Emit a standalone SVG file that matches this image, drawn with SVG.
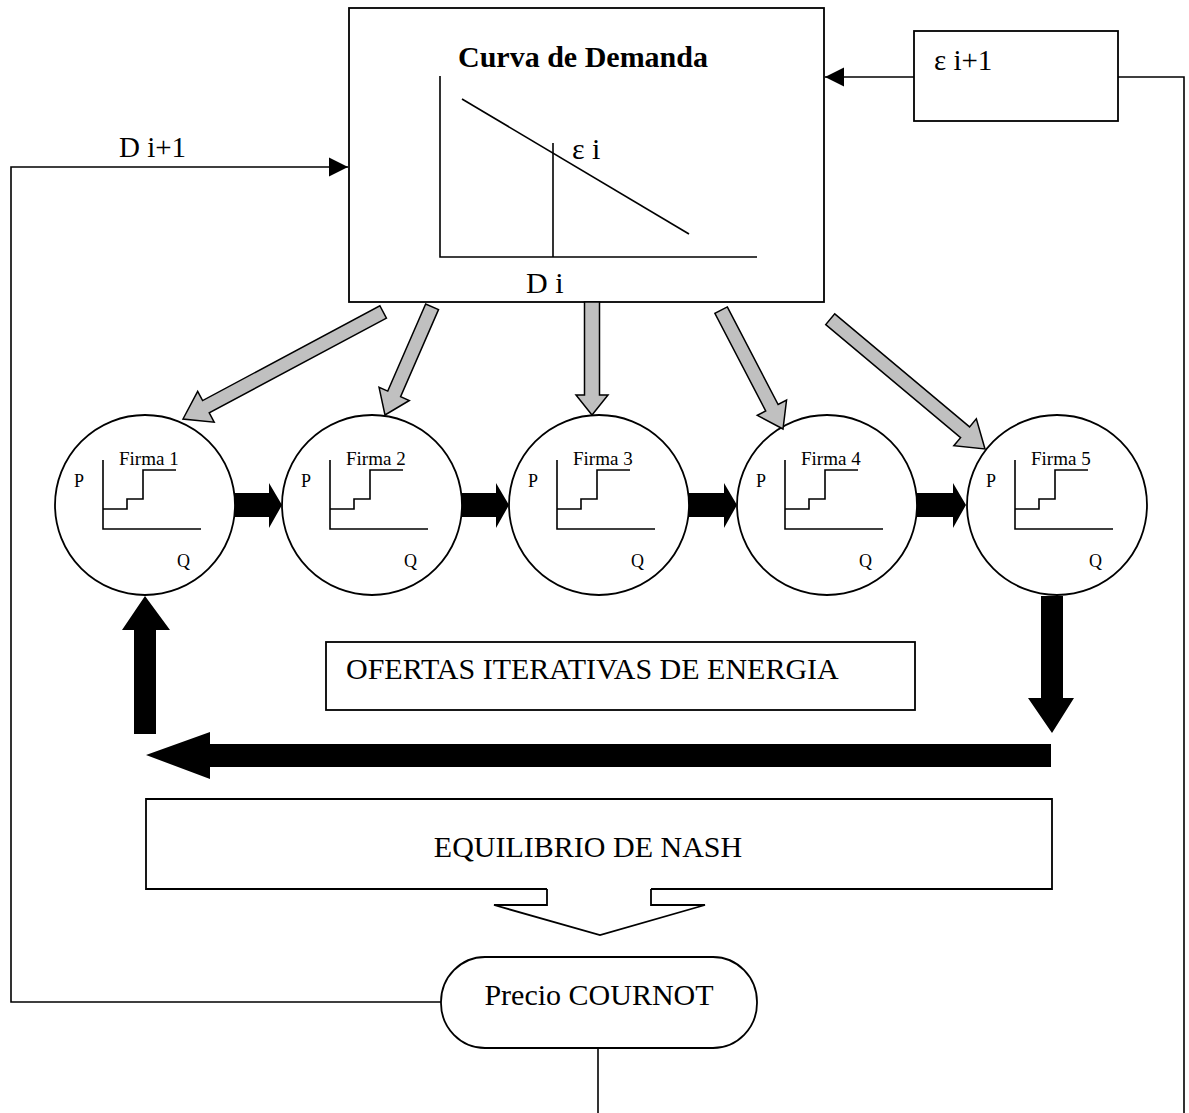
<svg xmlns="http://www.w3.org/2000/svg" xmlns:xlink="http://www.w3.org/1999/xlink" width="1189" height="1113" viewBox="0 0 1189 1113">
<style>
.ln{fill:none;stroke:#000;stroke-width:1.6}
.bx{fill:#fff;stroke:#000;stroke-width:1.8}
.t{font-family:"Liberation Serif","Times New Roman",serif;fill:#000}
.big{font-size:30px}
.sm{font-size:18px}
.gray{fill:#c0c0c0;stroke:#000;stroke-width:1.5}
.blk{fill:#000;stroke:none}
</style>
<defs>
<marker id="ah" markerUnits="userSpaceOnUse" markerWidth="20" markerHeight="20" refX="19" refY="10" orient="auto">
<path d="M0,0.5 L19,10 L0,19.5 z" fill="#000"/>
</marker>
<g id="chart">
<path class="ln" d="M-42,-45 V24 H56"/>
<polyline class="ln" points="-42,4 -18,4 -18,-6 -2,-6 -2,-35 31,-35"/>
<text class="t sm" x="-71" y="-18">P</text>
<text class="t sm" x="32" y="62">Q</text>
</g>
</defs>

<g id="curva-demanda">
<rect class="bx" x="349" y="8" width="475" height="294"/>
<text class="t big" x="583" y="67" text-anchor="middle" font-weight="bold">Curva de Demanda</text>
<path class="ln" d="M440,76 V257 H757"/>
<line class="ln" x1="462" y1="99" x2="689" y2="234"/>
<line class="ln" x1="553" y1="143" x2="553" y2="257"/>
<text class="t big" x="572" y="159">ε i</text>
<text class="t big" x="526" y="293">D i</text>
</g>

<g id="epsilon-box">
<rect class="bx" x="914" y="31" width="204" height="90"/>
<text class="t" font-size="29" x="934" y="70">ε i+1</text>
</g>

<g id="firma1" transform="translate(145,505)">
<circle class="bx" cx="0" cy="0" r="90"/>
<use xlink:href="#chart"/>
<text class="t" font-size="19" x="-26" y="-40">Firma 1</text>
</g>
<g id="firma2" transform="translate(372,505)">
<circle class="bx" cx="0" cy="0" r="90"/>
<use xlink:href="#chart"/>
<text class="t" font-size="19" x="-26" y="-40">Firma 2</text>
</g>
<g id="firma3" transform="translate(599,505)">
<circle class="bx" cx="0" cy="0" r="90"/>
<use xlink:href="#chart"/>
<text class="t" font-size="19" x="-26" y="-40">Firma 3</text>
</g>
<g id="firma4" transform="translate(827,505)">
<circle class="bx" cx="0" cy="0" r="90"/>
<use xlink:href="#chart"/>
<text class="t" font-size="19" x="-26" y="-40">Firma 4</text>
</g>
<g id="firma5" transform="translate(1057,505)">
<circle class="bx" cx="0" cy="0" r="90"/>
<use xlink:href="#chart"/>
<text class="t" font-size="19" x="-26" y="-40">Firma 5</text>
</g>

<g id="ofertas">
<rect class="bx" x="326" y="642" width="589" height="68"/>
<text class="t big" x="346" y="679">OFERTAS ITERATIVAS DE ENERGIA</text>
</g>

<g id="equilibrio">
<path class="bx" d="M547,889 H146 V799 H1052 V889 H651"/>
<text class="t big" x="588" y="857" text-anchor="middle">EQUILIBRIO DE NASH</text>
<polyline class="bx" points="547,889 547,905 494,905 600,935 705,905 651,905 651,889"/>
</g>

<g id="precio">
<rect class="bx" x="441" y="957" width="316" height="91" rx="44" ry="45"/>
<text class="t big" x="599" y="1005" text-anchor="middle">Precio COURNOT</text>
</g>

<g id="connectors">
<polygon class="gray" transform="translate(183,419) rotate(151.85)" points="-227,-7 -26,-7 -26,-17.5 0,0 -26,17.5 -26,7 -227,7"/>
<polygon class="gray" transform="translate(385,415) rotate(113.52)" points="-118,-7 -23,-7 -23,-16.5 0,0 -23,16.5 -23,7 -118,7"/>
<polygon class="gray" transform="translate(592,415) rotate(90)" points="-113,-7.5 -20,-7.5 -20,-16 0,0 -20,16 -20,7.5 -113,7.5"/>
<polygon class="gray" transform="translate(783,429) rotate(62.48)" points="-134,-7 -24,-7 -24,-16.5 0,0 -24,16.5 -24,7 -134,7"/>
<polygon class="gray" transform="translate(985,449) rotate(39.99)" points="-202,-7 -26,-7 -26,-17.5 0,0 -26,17.5 -26,7 -202,7"/>

<polygon class="blk" points="235,493 269,493 269,483 282,505 269,528 269,517 235,517"/>
<polygon class="blk" points="462,493 496,493 496,483 509,505 496,528 496,517 462,517"/>
<polygon class="blk" points="689,493 724,493 724,483 737,505 724,528 724,517 689,517"/>
<polygon class="blk" points="917,493 953,493 953,483 966,505 953,528 953,517 917,517"/>

<polygon class="blk" points="134,734 134,630 122,630 145,596 170,630 156,630 156,734"/>
<polygon class="blk" points="1041,596 1063,596 1063,698 1074,698 1052,733 1028,698 1041,698"/>
<polygon class="blk" points="1051,744 210,744 210,732 146,755 210,779 210,767 1051,767"/>

<polyline class="ln" points="441,1002 11,1002 11,167 348,167" marker-end="url(#ah)"/>
<text class="t" font-size="29" x="119" y="157">D i+1</text>
<line class="ln" x1="914" y1="77" x2="825" y2="77" marker-end="url(#ah)"/>
<polyline class="ln" points="1118,77 1184,77 1184,1113"/>
<line class="ln" x1="598" y1="1048" x2="598" y2="1113"/>
</g>
</svg>
